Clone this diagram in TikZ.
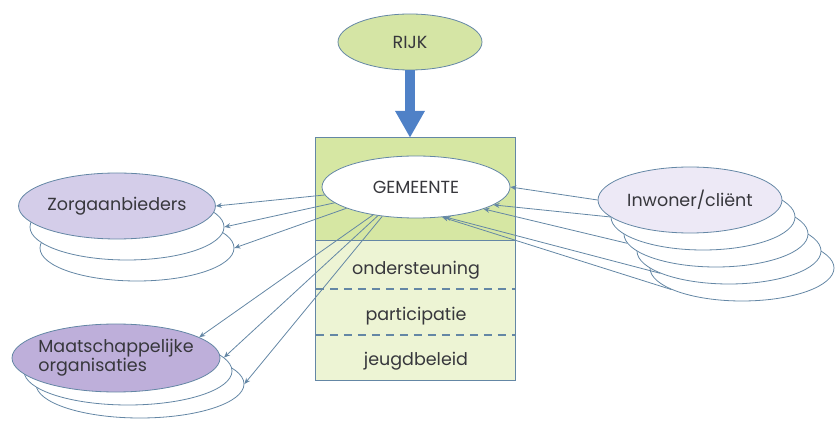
\documentclass[tikz,border=0pt]{standalone}
\usepackage{fontspec}
\setmainfont{Poppins}
\usetikzlibrary{arrows.meta,calc,shapes.geometric}
\definecolor{rijkgreen}{RGB}{213,229,165}
\definecolor{topgreen}{RGB}{214,231,163}
\definecolor{palegreen}{RGB}{237,244,212}
\definecolor{slate}{RGB}{100,135,165}
\definecolor{lilac}{RGB}{212,205,233}
\definecolor{plum}{RGB}{190,175,218}
\definecolor{mist}{RGB}{237,233,246}
\definecolor{royal}{RGB}{79,129,199}
\definecolor{ink}{RGB}{55,55,60}
\tikzset{
  >={Stealth[length=6pt,width=5pt]},
  blob/.style={ellipse,draw=slate,thick,fill=#1,inner sep=0pt,
    text=ink,font=\fontsize{17.5}{19}\selectfont,align=center},
  blob/.default=white,
  zorg size/.style={minimum width=194pt,minimum height=66pt},
  maat size/.style={minimum width=208pt,minimum height=68pt},
  inw size/.style={minimum width=184pt,minimum height=66pt},
  panel/.style={fill=palegreen,minimum width=199pt,minimum height=242pt,inner sep=0pt},
  sep/.style={draw=slate,line width=2pt,dash pattern=on 8pt off 6pt},
  tag/.style={font=\fontsize{17.5}{19}\selectfont,text=ink},
  link/.style={->,draw=slate,line width=0.8pt},
  bigarrow/.style={-{Triangle[width=28pt,length=27pt]},draw=royal,line width=10pt},
}
\begin{document}
\begin{tikzpicture}[x=1pt,y=-1pt]
  \useasboundingbox (0,0) rectangle (840,427);
  % rijk
  \node[blob=rijkgreen,minimum width=144pt,minimum height=56pt] (rijk) at (410,42) {RIJK};
  % gemeente block
  \node[panel] (box) at (415.5,259) {};
  \fill[topgreen] (box.north west) rectangle ($(box.north east)+(0,103)$);
  \draw[slate,thick] ($(box.north west)+(0,103)$) -- ($(box.north east)+(0,103)$);
  \draw[sep] ([yshift=-30pt]box.west) -- ([yshift=-30pt]box.east);
  \draw[sep] ([yshift=-76pt]box.west) -- ([yshift=-76pt]box.east);
  \draw[slate,thick] (box.north west) rectangle (box.south east);
  \node[blob,minimum width=188pt,minimum height=62pt] (gem) at (416,187) {GEMEENTE};
  \node[tag] (onder) at (416,270) {ondersteuning};
  \node[tag] (part) at (416,316) {participatie};
  \node[tag] (jeugd) at (416,361) {jeugdbeleid};
  \draw[bigarrow] (rijk.south) -- (rijk.south |- box.north);
  % zorgaanbieders
  \foreach \i in {2,1}
    \node[blob,zorg size] (zo\i) at (117+10*\i,206+21*\i) {};
  \node[blob=lilac,zorg size] (zo) at (117,206) {Zorgaanbieders};
  % maatschappelijke organisaties
  \foreach \i in {2,1}
    \node[blob,maat size] (mo\i) at (116+12*\i,358+13*\i) {};
  \node[blob=plum,maat size,label={[tag,align=left]center:Maatschappelijke\\organisaties}] (mo) at (116,358) {};
  % inwoners
  \foreach \i in {4,3,2,1}
    \node[blob,inw size] (iw\i) at (690+13*\i,200+17*\i) {};
  \node[blob=mist,inw size] (iw) at (690,200) {Inwoner/cliënt};
  % connectors
  \foreach \a/\t in {185/zo,191/zo1,197/zo2}
    \draw[link] (gem.\a) -- (\t.east);
  \foreach \a/\t/\b in {213/mo/14,217/mo1/8,221/mo2/0}
    \draw[link] (gem.\a) -- (\t.\b);
  \foreach \s/\c/\b in {iw/180/0,iw1/180/-13,iw2/186/-18,iw3/198/-46,iw4/197/-49}
    \draw[link] (\s.\c) -- (gem.\b);
\end{tikzpicture}
\end{document}
